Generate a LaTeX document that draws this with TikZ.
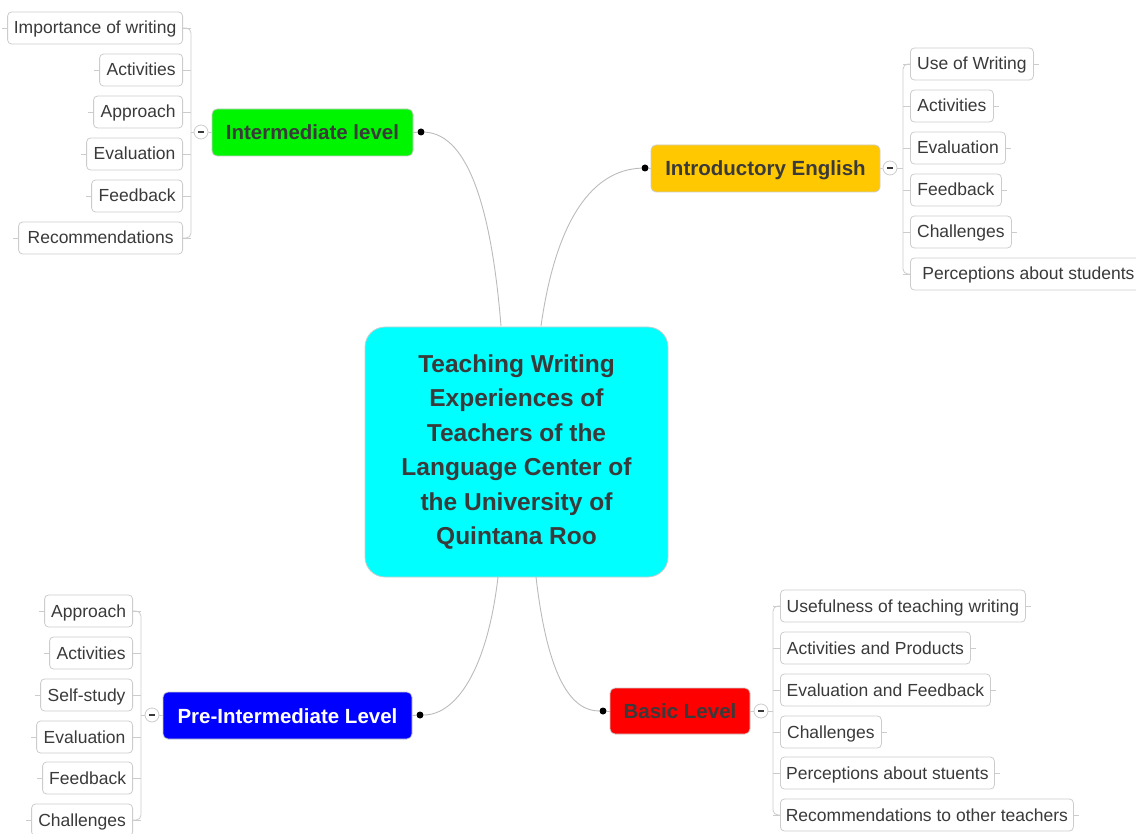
\documentclass[tikz,border=0pt]{standalone}
\usepackage{fontspec}
\setmainfont{Liberation Sans}
\usetikzlibrary{calc}
\definecolor{txt}{HTML}{3A3A3A}
\definecolor{lgray}{HTML}{CCCCCC}
\definecolor{cgray}{HTML}{BBBBBB}
\definecolor{mgreen}{HTML}{00F500}
\definecolor{mgold}{HTML}{FFC800}
\definecolor{mblue}{HTML}{0000FF}
\definecolor{mred}{HTML}{FF0000}
\definecolor{mcyan}{HTML}{00FFFF}
\begin{document}
\begin{tikzpicture}[x=1pt,y=-1pt,
  leaf/.style={draw=lgray, line width=0.8pt, rounded corners=4pt, fill=white, minimum height=32pt,
    inner xsep=0pt, inner ysep=0pt, text height=14.5pt, text depth=2.5pt,
    font=\fontsize{17.5}{20}\selectfont, text=txt},
  mainbox/.style={draw=lgray, line width=0.8pt, rounded corners=5pt, minimum height=47pt, inner sep=0pt,
    text height=16.5pt, text depth=1.5pt,
    font=\bfseries\fontsize{20.5}{24}\selectfont, text=txt},
  dotn/.style={circle, fill=black, inner sep=0pt, minimum size=7pt},
  coll/.style={circle, draw=lgray, line width=0.8pt, fill=white, inner sep=0pt, minimum size=14pt,
    path picture={\draw[txt, line width=1.2pt] ($(path picture bounding box.center)+(-3,0)$) -- ++(6,0);}},
  br/.style={draw=lgray, line width=0.8pt},
  conn/.style={draw=cgray, line width=0.9pt}]
\useasboundingbox (0,0) rectangle (1136,834);

% central node
\node[draw=lgray, line width=0.8pt, fill=mcyan, rounded corners=20pt, minimum width=303pt, minimum height=250pt,
  align=center, text=txt, font=\bfseries\fontsize{24.5}{34.5}\selectfont] (c) at (516.5,452)
  {Teaching Writing\\Experiences of\\Teachers of the\\Language Center of\\the University of\\Quintana Roo};
\coordinate (c1) at (501,326);
\coordinate (c2) at (541,326);
\coordinate (c3) at (498,577);
\coordinate (c4) at (536,577);

% main nodes
\node[mainbox, fill=mgreen, minimum width=201pt] (im) at (312.5,132.5) {Intermediate level};
\node[mainbox, fill=mgold, minimum width=229pt] (ie) at (765.5,168.5) {Introductory English};
\node[mainbox, fill=mblue, text=white, minimum width=249pt] (pi) at (287.5,715.5) {Pre-Intermediate Level};
\node[mainbox, fill=mred, minimum width=140pt, minimum height=46pt] (bl) at (680,711) {Basic Level};

% dots
\node[dotn] (imd) at (421,132) {};
\node[dotn] (ied) at (645,168) {};
\node[dotn] (pid) at (420,715) {};
\node[dotn] (bld) at (603,711) {};
\draw[conn] (imd) -- (im.east);
\draw[conn] (ied) -- (ie.west);
\draw[conn] (pid) -- (pi.east);
\draw[conn] (bld) -- (bl.west);

% connectors from centre
\draw[conn] (c1) .. controls (492,215) and (470,134) .. (imd);
\draw[conn] (c2) .. controls (556,220) and (592,170) .. (ied);
\draw[conn] (c3) .. controls (487,672) and (455,715) .. (pid);
\draw[conn] (c4) .. controls (548,680) and (572,711) .. (bld);

% collapse circles and bracket anchors
\node[coll] (imc) at (201,132) {};
\node[coll] (iec) at (890,168) {};
\node[coll] (pic) at (152,715) {};
\node[coll] (blc) at (761,711) {};
\coordinate (imb) at (191,132);
\coordinate (ieb) at (903,168);
\coordinate (pib) at (141,715);
\coordinate (blb) at (773,711);
\draw[br] (im.west) -- (imc);
\draw[br] (ie.east) -- (iec);
\draw[br] (pi.west) -- (pic);
\draw[br] (bl.east) -- (blc);
\draw[br] (imc) -- (imb);
\draw[br] (iec) -- (ieb);
\draw[br] (pic) -- (pib);
\draw[br] (blc) -- (blb);

% Intermediate leaves (left side)
\foreach \i/\y/\w/\t in {1/28/175/Importance of writing, 2/70/83/Activities, 3/112/89/Approach,
  4/154/96/Evaluation, 5/196/91/Feedback, 6/238/164/Recommendations}{
  \node[leaf, anchor=east, minimum width=\w pt] (im\i) at (183,\y) {\t};
  \draw[br] (im\i.west) -- ++(-5,0);
  \draw[br] (im\i.east) -- (imb |- im\i.east);
}
\draw[br, rounded corners=5pt] (im1.east) -- (imb |- im1.east) -- (imb |- im6.east) -- (im6.east);

% Introductory leaves (right side)
\foreach \i/\y/\w/\t in {1/64/123/Use of Writing, 2/106/83/Activities, 3/148/95/Evaluation,
  4/190/91/Feedback, 5/232/101/Challenges, 6/274/236/Perceptions about students}{
  \node[leaf, anchor=west, minimum width=\w pt] (ie\i) at (910,\y) {\t};
  \draw[br] (ie\i.east) -- ++(5,0);
  \draw[br] (ie\i.west) -- (ieb |- ie\i.west);
}
\draw[br, rounded corners=5pt] (ie1.west) -- (ieb |- ie1.west) -- (ieb |- ie6.west) -- (ie6.west);

% Pre-Intermediate leaves (left side)
\foreach \i/\y/\w/\t in {1/611/88/Approach, 2/653/83/Activities, 3/695/92/Self-study,
  4/737/96/Evaluation, 5/778/90/Feedback, 6/820/101/Challenges}{
  \node[leaf, anchor=east, minimum width=\w pt] (pi\i) at (133,\y) {\t};
  \draw[br] (pi\i.west) -- ++(-5,0);
  \draw[br] (pi\i.east) -- (pib |- pi\i.east);
}
\draw[br, rounded corners=5pt] (pi1.east) -- (pib |- pi1.east) -- (pib |- pi6.east) -- (pi6.east);

% Basic leaves (right side)
\foreach \i/\y/\w/\t in {1/606/245/Usefulness of teaching writing, 2/648/190/Activities and Products,
  3/690/210/Evaluation and Feedback, 4/732/101/Challenges, 5/773/214/Perceptions about stuents,
  6/815/293/Recommendations to other teachers}{
  \node[leaf, anchor=west, minimum width=\w pt] (bl\i) at (780,\y) {\t};
  \draw[br] (bl\i.east) -- ++(5,0);
  \draw[br] (bl\i.west) -- (blb |- bl\i.west);
}
\draw[br, rounded corners=5pt] (bl1.west) -- (blb |- bl1.west) -- (blb |- bl6.west) -- (bl6.west);
\end{tikzpicture}
\end{document}
